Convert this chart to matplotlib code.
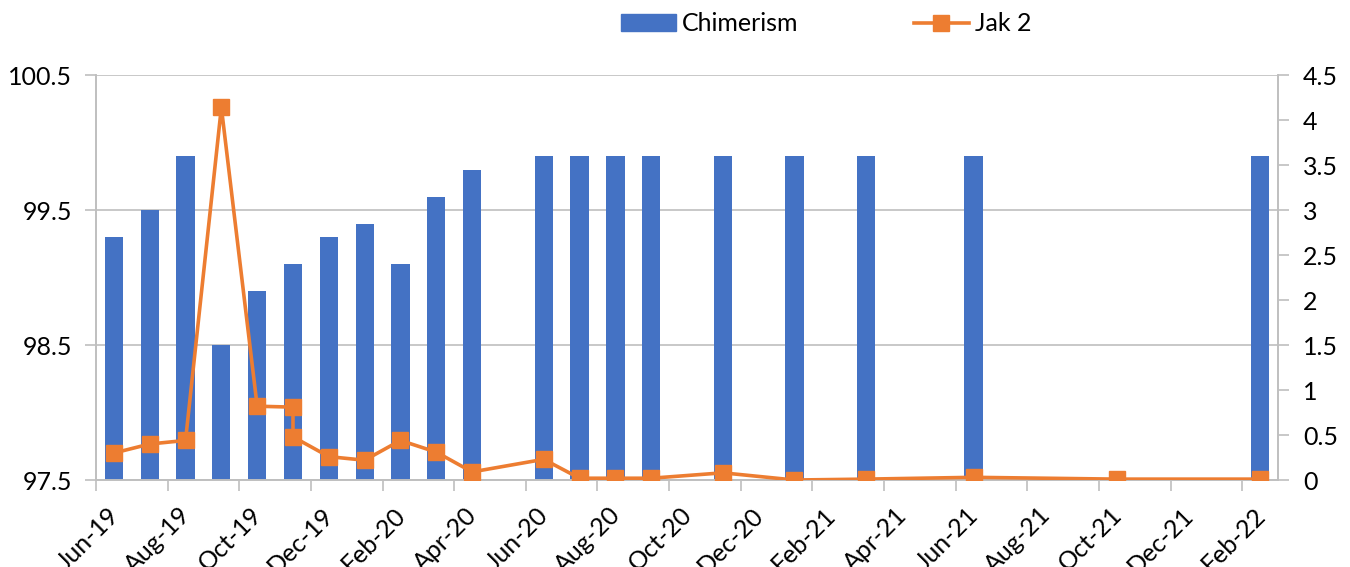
import matplotlib
matplotlib.use("Agg")
import matplotlib.pyplot as plt
import matplotlib.transforms as mtransforms
from matplotlib.lines import Line2D
from matplotlib.patches import Patch
import pandas as pd

BLUE = "#4472C4"
ORANGE = "#ED7D31"
GRID = "#BFBFBF"

plt.rcParams["font.family"] = ["Lato", "DejaVu Sans"]

# monthly date axis: Jun-19 .. Feb-22
START = "2019-06"
END = "2022-02"

chim_months = ["2019-06", "2019-07", "2019-08", "2019-09", "2019-10", "2019-11",
               "2019-12", "2020-01", "2020-02", "2020-03", "2020-04", "2020-06",
               "2020-07", "2020-08", "2020-09", "2020-11", "2021-01", "2021-03",
               "2021-06", "2022-02"]
chim_values = [99.3, 99.5, 99.9, 98.5, 98.9, 99.1,
               99.3, 99.4, 99.1, 99.6, 99.8, 99.9,
               99.9, 99.9, 99.9, 99.9, 99.9, 99.9,
               99.9, 99.9]

jak_months = ["2019-06", "2019-07", "2019-08", "2019-09", "2019-10", "2019-11",
              "2019-11", "2019-12", "2020-01", "2020-02", "2020-03", "2020-04",
              "2020-06", "2020-07", "2020-08", "2020-09", "2020-11", "2021-01",
              "2021-03", "2021-06", "2021-10", "2022-02"]
jak_values = [0.30, 0.40, 0.44, 4.14, 0.82, 0.81,
              0.48, 0.26, 0.22, 0.44, 0.31, 0.09,
              0.23, 0.02, 0.02, 0.02, 0.08, 0.00,
              0.01, 0.03, 0.01, 0.01]

left_ticks = [97.5, 98.5, 99.5, 100.5]
right_ticks = [0, 0.5, 1, 1.5, 2, 2.5, 3, 3.5, 4, 4.5]

FS = 18


def month_index(months):
    p0 = pd.Period(START, freq="M")
    return [(pd.Period(m, freq="M") - p0).n for m in months]


n_months = (pd.Period(END, freq="M") - pd.Period(START, freq="M")).n + 1
all_months = pd.period_range(START, END, freq="M")

fig = plt.figure(figsize=(13.5, 5.67), dpi=100)
ax = fig.add_axes([0.0711, 0.1534, 0.8756, 0.7143])

ax.bar(month_index(chim_months), chim_values, width=0.51, color=BLUE, zorder=2)
ax.set_ylim(97.5, 100.5)
ax.set_yticks(left_ticks)
ax.set_yticklabels(["%g" % v for v in left_ticks])
ax.set_xlim(-0.5, n_months - 0.5)
ax.grid(axis="y", color=GRID, linewidth=1.2, zorder=0)
ax.set_axisbelow(True)

# labels every second month, tick marks between the month slots
ax.set_xticks(range(0, n_months, 2))
ax.set_xticklabels([m.strftime("%b-%y") for m in all_months[::2]],
                   rotation=45, ha="right", rotation_mode="anchor")
ax.set_xticks([i - 0.5 for i in range(0, n_months + 1, 2)], minor=True)
ax.tick_params(axis="x", which="major", length=0, pad=13, labelsize=FS)
ax.tick_params(axis="x", which="minor", length=8, width=1.2, color=GRID)
ax.tick_params(axis="y", length=8, width=1.2, color=GRID, labelsize=FS, pad=9)

# nudge the slanted month labels a little left and down
shift = mtransforms.ScaledTranslation(-0.07, -0.05, fig.dpi_scale_trans)
for lbl in ax.get_xticklabels():
    lbl.set_transform(lbl.get_transform() + shift)

ax2 = ax.twinx()
ax2.plot(month_index(jak_months), jak_values, color=ORANGE, linewidth=2.6,
         marker="s", markersize=12, zorder=3)
ax2.set_ylim(0, 4.5)
ax2.set_yticks(right_ticks)
ax2.set_yticklabels(["%g" % v for v in right_ticks])
ax2.tick_params(axis="y", length=8, width=1.2, color=GRID, labelsize=FS, pad=10)

for a in (ax, ax2):
    a.spines["top"].set_visible(False)
    for s in ("left", "right", "bottom"):
        a.spines[s].set_color(GRID)
        a.spines[s].set_linewidth(1.2)

handles = [Patch(facecolor=BLUE, edgecolor=BLUE),
           Line2D([0], [0], color=ORANGE, linewidth=2.6, marker="s", markersize=12)]
fig.legend(handles, ["Chimerism", "Jak 2"], loc="center",
           bbox_to_anchor=(0.612, 0.958), ncol=2, frameon=False, fontsize=FS,
           handlelength=2.2, handleheight=0.65, handletextpad=0.25,
           columnspacing=4.6)

fig.savefig("out.png", dpi=100)
